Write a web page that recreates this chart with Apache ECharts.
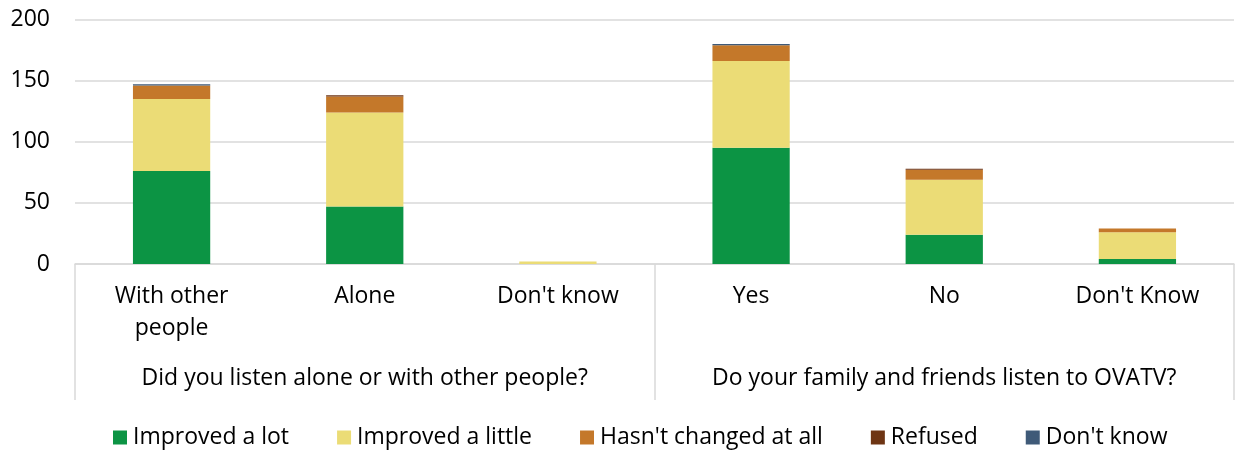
<!DOCTYPE html>
<html><head><meta charset="utf-8">
<script src="https://cdn.jsdelivr.net/npm/echarts@6/dist/echarts.min.js"></script>
<style>html,body{margin:0;padding:0;background:#fff}#c{width:1235px;height:450px}</style>
</head><body><div id="c"></div>
<script>
const categories = ["With other\npeople", "Alone", "Don't know", "Yes", "No", "Don't Know"];
const groups = ["Did you listen alone or with other people?", "Do your family and friends listen to OVATV?"];
const seriesNames = ["Improved a lot", "Improved a little", "Hasn't changed at all", "Refused", "Don't know"];
const improvedLot = [76, 47, 0, 95, 24, 4];
const improvedLittle = [59, 77, 2, 71, 45, 22];
const notChanged = [11, 13, 0, 13, 8, 3];
const refused = [0, 1, 0, 0, 1, 0];
const dontKnow = [1, 0, 0, 1, 0, 0];
const yTicks = [0, 50, 100, 150, 200];

const colors = ['#0C9444', '#EBDC76', '#C4782A', '#6E3514', '#3F5A78'];
const values = [improvedLot, improvedLittle, notChanged, refused, dontKnow];
const font = 'Open Sans';
const chart = echarts.init(document.getElementById('c'), null, {renderer: 'canvas'});
chart.setOption({
  animation: false,
  color: colors,
  grid: {left: 75, right: 1, top: 19.5, bottom: 186, containLabel: false},
  legend: {
    bottom: -4, left: 108, itemWidth: 14, itemHeight: 14, itemGap: 48,
    icon: 'rect',
    textStyle: {fontFamily: font, fontSize: 23, color: '#000', padding: [0, 0, 0, 1]},
    data: seriesNames
  },
  xAxis: [
    {type: 'category', data: categories, position: 'bottom',
     axisLine: {show: true, lineStyle: {color: '#D9D9D9', width: 1.5}},
     axisTick: {show: false},
     axisLabel: {interval: 0, fontFamily: font, fontSize: 23, color: '#000', margin: 16, lineHeight: 32}},
    {type: 'category', data: groups, position: 'bottom',
     axisLine: {show: false},
     axisTick: {show: true, length: 136, interval: 0, lineStyle: {color: '#D9D9D9', width: 1.5}},
     axisLabel: {interval: 0, fontFamily: font, fontSize: 23, color: '#000', margin: 103}}
  ],
  yAxis: {
    type: 'value', min: yTicks[0], max: yTicks[yTicks.length - 1], interval: 50,
    axisLine: {show: false}, axisTick: {show: false},
    splitLine: {lineStyle: {color: '#D9D9D9', width: 1.5}},
    axisLabel: {fontFamily: font, fontSize: 23, color: '#000', margin: 25}
  },
  series: seriesNames.map((n, i) => ({
    name: n, type: 'bar', stack: 'total', xAxisIndex: 0, barWidth: '40%',
    data: values[i],
    itemStyle: {color: colors[i]}
  }))
});
</script></body></html>
